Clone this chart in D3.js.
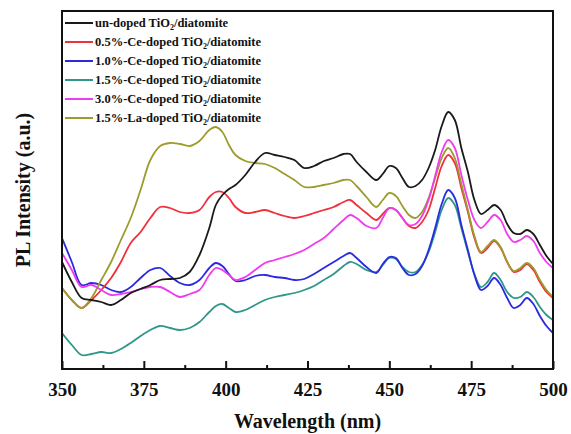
<!DOCTYPE html>
<html>
<head>
<meta charset="utf-8">
<script src="https://cdn.jsdelivr.net/npm/d3@7/dist/d3.min.js"></script>
<style>
  html, body { margin: 0; padding: 0; background: #fff; }
  svg { display: block; }
  text { font-family: "Liberation Serif", "Times New Roman", serif; font-weight: bold; fill: #111; }
</style>
</head>
<body>
<svg id="chart" width="571" height="434"></svg>
<script>
// Shared wavelength grid (nm)
const wavelength = [350,353,356,359,362,365,368,371,374,377,380,383,386,389,392,395,397,399,401,403,406,409,412,415,418,421,424,427,430,433,436,438,440,443,446,448,450,452,454,456,458,460,462,464,466,468,470,472,474,476,478,480,482,484,486,488,490,492,494,496,498,500];

// PL intensity (a.u.) for each sample
const undoped = [107,87,71,69,67,64,69,76,80,84,89,90,91,97,114,141,164,174,180,184,194,207,216,214,212,209,201,203,208,211,215,215,207,197,189,195,203,201,191,182,183,189,201,219,243,257,249,221,197,169,155,159,164,159,145,136,135,139,135,124,113,105];
const ce05 = [81,69,61,69,79,91,107,126,137,151,162,161,157,156,159,172,177,177,171,162,156,157,159,156,153,151,153,156,159,162,167,169,164,156,149,155,161,159,151,143,141,147,159,181,203,214,206,181,157,131,116,121,128,121,107,97,99,105,99,87,77,71];
const ce10 = [131,107,84,86,84,79,77,82,91,99,101,93,86,84,89,101,106,103,95,88,89,93,94,92,91,89,90,95,101,107,113,116,111,102,96,105,112,111,101,94,95,103,119,141,165,179,171,144,119,94,79,83,91,84,71,61,64,71,65,53,43,36];
const ce15 = [36,24,14,15,17,16,20,26,33,39,43,41,39,41,47,57,63,65,61,57,59,64,69,72,74,76,79,83,89,95,103,107,105,99,97,104,111,110,102,97,97,104,117,137,159,171,164,141,117,95,82,87,96,89,77,71,72,77,72,62,54,49];
const ce30 = [116,99,82,84,79,74,75,77,80,82,82,77,72,75,79,94,101,99,94,89,92,99,106,109,112,115,119,125,131,140,149,154,151,143,141,151,161,159,151,144,145,153,169,193,217,229,221,194,169,149,141,147,154,149,135,127,129,133,128,116,107,101];
const la15 = [81,69,61,71,89,107,129,151,179,209,223,226,225,223,228,239,242,237,224,214,208,206,205,201,195,189,182,182,184,186,189,189,183,172,162,169,176,173,163,154,151,157,171,191,211,221,211,185,159,133,117,123,129,122,107,98,101,106,101,89,79,72];

const seriesNames = [
  "un-doped TiO|2|/diatomite",
  "0.5%-Ce-doped TiO|2|/diatomite",
  "1.0%-Ce-doped TiO|2|/diatomite",
  "1.5%-Ce-doped TiO|2|/diatomite",
  "3.0%-Ce-doped TiO|2|/diatomite",
  "1.5%-La-doped TiO|2|/diatomite"
];
const seriesValues = [undoped, ce05, ce10, ce15, ce30, la15];
const seriesColors = ["#1a1a1a", "#f0303c", "#2a2ae0", "#2e978a", "#ee3cee", "#9c9c2c"];

const xTicks = [350, 375, 400, 425, 450, 475, 500];
const xMinorTicks = [362.5, 387.5, 412.5, 437.5, 462.5, 487.5];

const margin = { left: 62, right: 18, top: 11, bottom: 65 };
const W = 571, H = 434;
const svg = d3.select("#chart");

const x = d3.scaleLinear().domain([350, 500]).range([margin.left, W - margin.right]);
const y = d3.scaleLinear().domain([0, 358]).range([H - margin.bottom, margin.top]);

const plot = svg.append("g");
plot.append("clipPath").attr("id", "clip")
  .append("rect")
  .attr("x", x(350)).attr("y", y(358))
  .attr("width", x(500) - x(350)).attr("height", y(0) - y(358));

const line = d3.line()
  .x((d, i) => x(wavelength[i]))
  .y(d => y(d))
  .curve(d3.curveCatmullRom.alpha(0.5));

// Draw order: teal and blue underneath, black on top
const order = [3, 2, 1, 5, 4, 0];
order.forEach(k => {
  plot.append("path")
    .datum(seriesValues[k])
    .attr("clip-path", "url(#clip)")
    .attr("fill", "none")
    .attr("stroke", seriesColors[k])
    .attr("stroke-width", 1.8)
    .attr("stroke-linejoin", "round")
    .attr("d", line);
});

// Bottom axis with inward ticks
const xAxis = d3.axisBottom(x).tickValues(xTicks).tickSize(-8).tickPadding(14).tickFormat(d3.format("d"));
const gx = svg.append("g").attr("transform", `translate(0,${y(0)})`).call(xAxis);
gx.select(".domain").remove();
gx.selectAll(".tick line").attr("stroke", "#111").attr("stroke-width", 2);
gx.selectAll(".tick text").style("font-size", "19px").attr("dy", "0.71em");

const xMinor = d3.axisBottom(x).tickValues(xMinorTicks).tickSize(-4).tickFormat("");
const gxm = svg.append("g").attr("transform", `translate(0,${y(0)})`).call(xMinor);
gxm.select(".domain").remove();
gxm.selectAll(".tick line").attr("stroke", "#111").attr("stroke-width", 2);

// Frame
svg.append("rect")
  .attr("x", x(350)).attr("y", y(358))
  .attr("width", x(500) - x(350)).attr("height", y(0) - y(358))
  .attr("fill", "none").attr("stroke", "#111").attr("stroke-width", 2);

// Axis titles
svg.append("text")
  .attr("x", (x(350) + x(500)) / 2).attr("y", 428)
  .attr("text-anchor", "middle").style("font-size", "20px")
  .text("Wavelength (nm)");

svg.append("text")
  .attr("transform", `translate(30,${(y(0) + y(358)) / 2}) rotate(-90)`)
  .attr("text-anchor", "middle").style("font-size", "20px")
  .text("PL Intensity (a.u.)");

// Legend
const legend = svg.append("g");
seriesNames.forEach((name, i) => {
  const cy = 23 + i * 19;
  legend.append("line")
    .attr("x1", 65).attr("x2", 93).attr("y1", cy).attr("y2", cy)
    .attr("stroke", seriesColors[i]).attr("stroke-width", 2);
  const parts = name.split("|");
  const t = legend.append("text").attr("x", 95).attr("y", cy + 4).style("font-size", "12.5px");
  t.append("tspan").text(parts[0]);
  t.append("tspan").text(parts[1]).attr("dy", 3).style("font-size", "8px");
  t.append("tspan").text(parts[2]).attr("dy", -3);
});
</script>
</body>
</html>
